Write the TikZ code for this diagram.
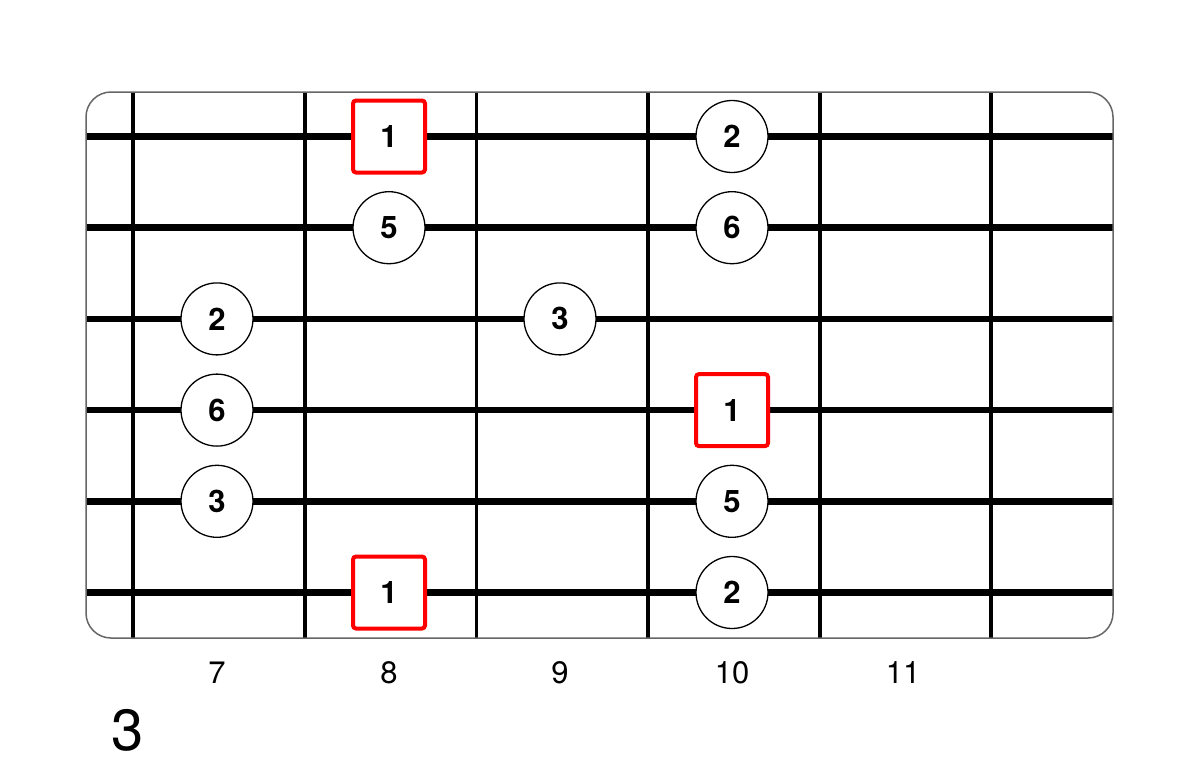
\documentclass[tikz,border=0pt]{standalone}
\usepackage{fontspec}
\setmainfont{TeX Gyre Heros}
\usetikzlibrary{positioning}
\tikzset{
  fret/.style={line width=3.5pt},
  gstring/.style={line width=6.5pt},
  deg/.style={circle,draw,fill=white,line width=1.3pt,minimum size=72pt,inner sep=0pt,font=\fontsize{31}{31}\selectfont\bfseries},
  root/.style={rectangle,draw=red,fill=white,line width=4pt,rounded corners=3pt,minimum size=72pt,inner sep=0pt,font=\fontsize{31}{31}\selectfont\bfseries},
  fretno/.style={font=\fontsize{31}{31}\selectfont}
}
\begin{document}
\begin{tikzpicture}[x=1pt,y=-1pt]
\useasboundingbox (0,0) rectangle (1200,774);
\coordinate (NW) at (86,92);
\coordinate (SE) at (1113,638);
% strings
\draw[gstring] (86,136.5) -- (1113,136.5);
\draw[gstring] (86,227.7) -- (1113,227.7);
\draw[gstring] (86,318.9) -- (1113,318.9);
\draw[gstring] (86,410.1) -- (1113,410.1);
\draw[gstring] (86,501.3) -- (1113,501.3);
\draw[gstring] (86,592.5) -- (1113,592.5);
% frets
\draw[fret] (133,92) -- (133,638);
\draw[fret] (305,92) -- (305,638);
\draw[fret] (476.5,92) -- (476.5,638);
\draw[fret] (648,92) -- (648,638);
\draw[fret] (820,92) -- (820,638);
\draw[fret] (991,92) -- (991,638);
\draw[black!60,line width=1.5pt,rounded corners=25pt] (NW) rectangle (SE);
% scale degrees
\node[root] (e8) at (389,136.5) {1};
\node[deg] (e10) at (732,136.5) {2};
\node[deg] (B8) at (389,227.7) {5};
\node[deg] (B10) at (732,227.7) {6};
\node[deg] (G7) at (217,318.9) {2};
\node[deg] (G9) at (560,318.9) {3};
\node[deg] (D7) at (217,410.1) {6};
\node[root] (D10) at (732,410.1) {1};
\node[deg] (A7) at (217,501.3) {3};
\node[deg] (A10) at (732,501.3) {5};
\node[root] (E8) at (389,592.5) {1};
\node[deg] (E10) at (732,592.5) {2};
% fret numbers
\node[fretno] (f7) at (217,673) {7};
\node[fretno] (f8) at (389,673) {8};
\node[fretno] (f9) at (560,673) {9};
\node[fretno] (f10) at (732,673) {10};
\node[fretno] (f11) at (903,673) {11};
\node[font=\fontsize{58}{58}\selectfont] (pos) at (127.5,730) {3};
\end{tikzpicture}
\end{document}
